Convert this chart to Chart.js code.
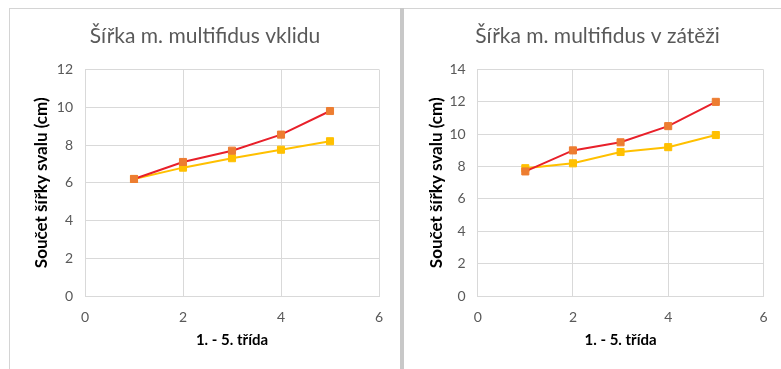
<!DOCTYPE html>
<html>
<head>
<meta charset="utf-8">
<script src="https://cdn.jsdelivr.net/npm/chart.js@4"></script>
<style>
	body { margin: 0; background: #fff; width: 781px; height: 369px; overflow: hidden; position: relative; }
	.line { position: absolute; background: #d4d4d4; }
	canvas { position: absolute; }
</style>
</head>
<body>
<div class="line" style="left:9px; top:8px; width:772px; height:1px;"></div>
<div class="line" style="left:9px; top:8px; width:1px; height:361px;"></div>
<div class="line" style="left:400px; top:8px; width:4px; height:361px; background:#c8c8c8;"></div>
<canvas id="chartRest" style="left:11px; top:9px;" width="389" height="360"></canvas>
<canvas id="chartLoad" style="left:404px; top:9px;" width="377" height="360"></canvas>
<script>
const grades = [1, 2, 3, 4, 5];
const restRed = [6.2, 7.1, 7.7, 8.55, 9.8];
const restYellow = [6.2, 6.8, 7.3, 7.75, 8.2];
const loadRed = [7.7, 9.0, 9.5, 10.5, 12.0];
const loadYellow = [7.9, 8.2, 8.9, 9.2, 9.95];

const xTitle = '1. - 5. třída';
const yTitle = 'Součet šířky svalu (cm)';

const FONT = 'Lato, "Open Sans", sans-serif';
const GREY = '#595959';
const GRID = '#d9d9d9';

function points(ys) {
	return grades.map((x, i) => ({ x: x, y: ys[i] }));
}

// kreslí jeden graf, rozměry plochy jsou pevné
function graf(id, title, red, yellow, yMax, padRight, yWidth, yTitlePad) {
	const ctx = document.getElementById(id).getContext('2d');
	new Chart(ctx, {
		type: 'line',
		data: {
			datasets: [{
				label: 'řada 1',
				data: points(red),
				borderColor: '#e8202a',
				backgroundColor: '#ed7d31',
				pointBackgroundColor: '#ed7d31',
				pointBorderColor: '#ed7d31',
				borderWidth: 2,
				pointStyle: 'rect',
				pointRadius: 5,
				pointBorderWidth: 1,
				tension: 0
			}, {
				label: 'řada 2',
				data: points(yellow),
				borderColor: '#ffc000',
				backgroundColor: '#ffc000',
				pointBackgroundColor: '#ffc000',
				pointBorderColor: '#ffc000',
				borderWidth: 2,
				pointStyle: 'rect',
				pointRadius: 5,
				pointBorderWidth: 1,
				tension: 0
			}]
		},
		options: {
			responsive: false,
			animation: false,
			layout: { padding: { left: 20, right: padRight, top: 0, bottom: 0 } },
			plugins: {
				legend: { display: false },
				tooltip: { enabled: false },
				title: {
					display: true,
					text: title,
					color: GREY,
					font: { family: FONT, size: 21, weight: 'normal', lineHeight: 1.2 },
					padding: { top: 14.4, bottom: 20.9 }
				}
			},
			scales: {
				x: {
					type: 'linear',
					min: 0,
					max: 6,
					ticks: { stepSize: 2, color: GREY, font: { family: FONT, size: 14 }, padding: 13.5 },
					grid: { color: GRID, drawTicks: false },
					border: { color: GRID },
					title: {
						display: true,
						text: xTitle,
						color: '#000',
						font: { family: FONT, size: 15, weight: 'bold', lineHeight: 1.2 },
						padding: { top: 0, bottom: 20 }
					},
					afterFit: (scale) => { scale.height = 73; }
				},
				y: {
					min: 0,
					max: yMax,
					ticks: { stepSize: 2, color: GREY, font: { family: FONT, size: 14 }, padding: 12 },
					grid: { color: GRID, drawTicks: false },
					border: { color: GRID },
					title: {
						display: true,
						text: yTitle,
						color: '#000',
						font: { family: FONT, size: 17, weight: 'bold', lineHeight: 1.2 },
						padding: { top: yTitlePad, bottom: 0 }
					},
					afterFit: (scale) => { scale.width = yWidth; }
				}
			}
		}
	});
}

graf('chartRest', 'Šířka m. multifidus vklidu', restRed, restYellow, 12, 21, 54, 0.8);
graf('chartLoad', 'Šířka m. multifidus v zátěži', loadRed, loadYellow, 14, 10, 53.7, 2.8);
</script>
</body>
</html>
